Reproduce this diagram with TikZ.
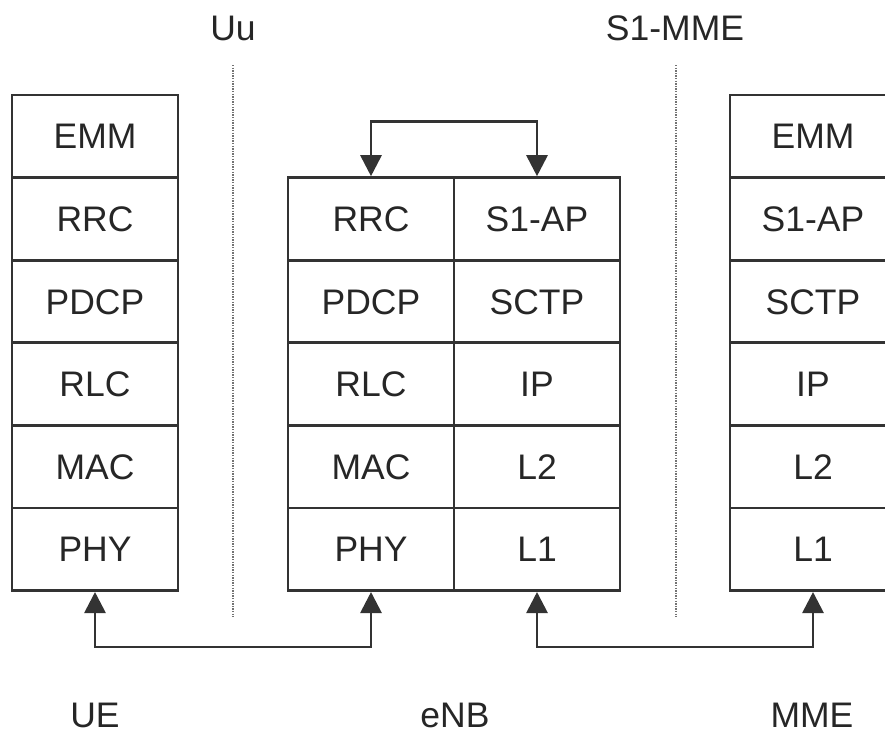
\documentclass[tikz,border=0pt]{standalone}
\usepackage{fontspec}
\setmainfont{Liberation Sans}
\usetikzlibrary{arrows.meta}
\definecolor{linec}{HTML}{333333}
\definecolor{txt}{HTML}{262626}
\begin{document}
\begin{tikzpicture}[x=1pt,y=-1pt,
  cell/.style={draw=linec, line width=2.8pt, minimum width=166pt, minimum height=82.6pt,
    inner sep=0pt, font=\fontsize{35.5}{40}\selectfont, text=txt, text height=25pt, text depth=0pt},
  lab/.style={inner sep=0pt, font=\fontsize{35.5}{40}\selectfont, text=txt, text height=25pt, text depth=0pt},
  conn/.style={draw=linec, line width=2.8pt, {Triangle[width=21pt,length=21pt]}-{Triangle[width=21pt,length=21pt]}},
  sepline/.style={draw=black!55, line width=1.6pt, dash pattern=on 1.3pt off 1.3pt}]
\useasboundingbox (0,0) rectangle (885,736);
\clip (0,0) rectangle (885,736);
% UE stack
\foreach \t [count=\i from 0] in {EMM,RRC,PDCP,RLC,MAC,PHY}
  \node[cell] (u\t) at (95,136.3+82.6*\i) {\t};
% eNB stack
\foreach \t [count=\i from 1] in {RRC,PDCP,RLC,MAC,PHY}
  \node[cell] (e\t) at (371,136.3+82.6*\i) {\t};
\foreach \t/\n [count=\i from 1] in {S1-AP/S1AP,SCTP/SCTP,IP/IP,L2/L2,L1/L1}
  \node[cell] (e\n) at (537,136.3+82.6*\i) {\t};
% MME stack
\foreach \t/\n [count=\i from 0] in {EMM/EMM,S1-AP/S1AP,SCTP/SCTP,IP/IP,L2/L2,L1/L1}
  \node[cell] (m\n) at (813,136.3+82.6*\i) {\t};
% separators
\draw[sepline] (233,65) -- (233,617);
\draw[sepline] (676,65) -- (676,617);
% labels
\node[lab] (uu) at (233,27.5) {Uu};
\node[lab] (s1mme) at (675,27.5) {S1-MME};
\node[lab] (ue) at (95,715) {UE};
\node[lab] (enb) at (455,715) {eNB};
\node[lab] (mme) at (812,715) {MME};
% connectors
\draw[conn] (eRRC.north) -- ++(0,-55) -| (eS1AP.north);
\draw[conn] (uPHY.south) -- ++(0,55) -| (ePHY.south);
\draw[conn] (eL1.south) -- ++(0,55) -| (mL1.south);
\end{tikzpicture}
\end{document}
